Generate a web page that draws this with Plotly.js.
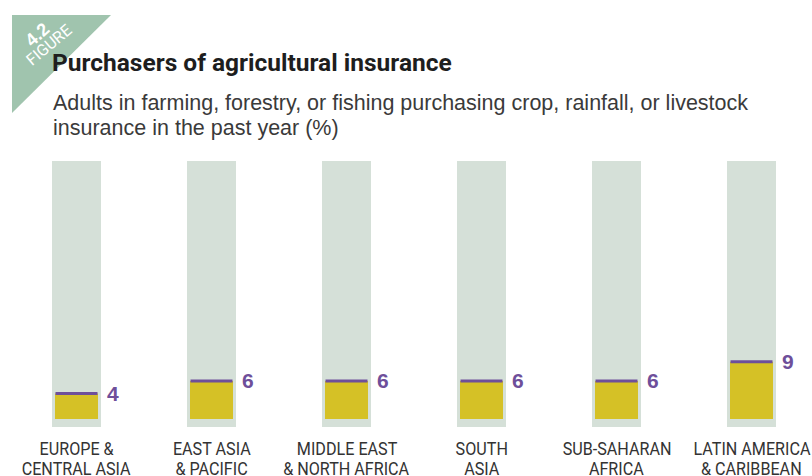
<!DOCTYPE html>
<html>
<head>
<meta charset="utf-8">
<script src="https://cdn.plot.ly/plotly-3.0.1.min.js"></script>
<style>html,body{margin:0;padding:0;background:#fff;}#chart{width:812px;height:476px;}</style>
</head>
<body>
<div id="chart"></div>
<script>
// ---- data ----
const regions = ["EUROPE &\nCENTRAL ASIA", "EAST ASIA\n& PACIFIC", "MIDDLE EAST\n& NORTH AFRICA", "SOUTH\nASIA", "SUB-SAHARAN\nAFRICA", "LATIN AMERICA\n& CARIBBEAN"];
const insurancePct = [4, 6, 6, 6, 6, 9];
const valueLabels = ["4", "6", "6", "6", "6", "9"];
const titleText = "Purchasers of agricultural insurance";
const subtitleLines = ["Adults in farming, forestry, or fishing purchasing crop, rainfall, or livestock", "insurance in the past year (%)"];
const figureNumber = "4.2";
const figureWord = "FIGURE";

// ---- styling ----
const W = 812, H = 476;
const plotL = 9, plotR = 812, plotT = 150, plotB = 430;
const pxPerUnit = 6.35, baselinePx = 419;
const catSpacing = 135;
const purple = "#6e4f9a", yellow = "#d5c126", bgBar = "#d5e0d8", sage = "#a0c4ae", txt = "#333333";
const cond = "Roboto, 'Liberation Sans', sans-serif";
const sans = "'Liberation Sans', Arial, sans-serif";

const xs = regions.map((_, i) => i);
const bgBottom = -(427 - baselinePx) / pxPerUnit;
const bgTop = (baselinePx - 161) / pxPerUnit;

const traces = [
  { type: "bar", x: xs, y: xs.map(() => bgTop - bgBottom), base: xs.map(() => bgBottom),
    width: 49 / catSpacing, marker: { color: bgBar }, hoverinfo: "skip", showlegend: false },
  { type: "bar", x: xs, y: insurancePct, width: 43 / catSpacing,
    marker: { color: yellow }, hoverinfo: "skip", showlegend: false },
  { type: "scatter", mode: "markers", x: xs, y: insurancePct,
    marker: { symbol: "line-ew-open", size: 30, color: purple, line: { color: purple, width: 3 } },
    hoverinfo: "skip", showlegend: false }
];

const px2paperX = p => (p - plotL) / (plotR - plotL);
const px2paperY = p => (plotB - p) / (plotB - plotT);

const annotations = [];
insurancePct.forEach((v, i) => {
  annotations.push({ x: i, y: v, xref: "x", yref: "y", text: "<b>" + valueLabels[i] + "</b>",
    showarrow: false, xanchor: "left", yanchor: "middle", xshift: 28,
    font: { family: sans, size: 21, color: purple } });
});
const catStart = annotations.length;
regions.forEach((r, i) => {
  r.split("\n").forEach((line, j) => {
    annotations.push({ x: i, y: 0, xref: "x", yref: "paper", text: line, showarrow: false,
      xanchor: "center", yanchor: "top", yshift: -5 - j * 20,
      font: { family: cond, size: 19, color: txt } });
  });
});
const catEnd = annotations.length;
subtitleLines.forEach((line, j) => {
  annotations.push({ x: px2paperX(52), y: px2paperY(89 + j * 25), xref: "paper", yref: "paper",
    text: line, showarrow: false, xanchor: "left", yanchor: "top", xshift: -1,
    font: { family: sans, size: 21.5, color: "#3a3a3a" } });
});
annotations.push({ x: px2paperX(37), y: px2paperY(35), xref: "paper", yref: "paper", text: "<b>" + figureNumber + "</b>",
  showarrow: false, xanchor: "center", yanchor: "middle", textangle: -42,
  font: { family: sans, size: 18, color: "#ffffff" } });
annotations.push({ x: px2paperX(48), y: px2paperY(45), xref: "paper", yref: "paper", text: figureWord,
  showarrow: false, xanchor: "center", yanchor: "middle", textangle: -40,
  font: { family: cond, size: 16, color: "#ffffff" } });

const layout = {
  width: W, height: H,
  margin: { l: plotL, r: W - plotR, t: plotT, b: H - plotB, pad: 0 },
  paper_bgcolor: "#ffffff", plot_bgcolor: "#ffffff",
  barmode: "overlay",
  title: { text: "<b>" + titleText + "</b>", xref: "container", yref: "container",
    x: 52 / W, xanchor: "left", y: 1 - 54 / H, yanchor: "top",
    font: { family: cond, size: 24.5, color: "#1e1e1e" } },
  xaxis: { range: [-0.5, -0.5 + (plotR - plotL) / catSpacing], showgrid: false, zeroline: false,
    showticklabels: false, ticks: "", showline: false, fixedrange: true },
  yaxis: { range: [-(plotB - baselinePx) / pxPerUnit, (baselinePx - plotT) / pxPerUnit],
    showgrid: false, zeroline: false, showticklabels: false, ticks: "", showline: false, fixedrange: true },
  shapes: [{ type: "path", xref: "paper", yref: "paper", layer: "below",
    path: `M ${px2paperX(12)} ${px2paperY(15)} L ${px2paperX(111)} ${px2paperY(15)} L ${px2paperX(12)} ${px2paperY(113)} Z`,
    fillcolor: sage, line: { width: 0 } }],
  annotations: annotations,
  showlegend: false
};

// horizontally condense a text element (emulates a condensed typeface)
function squeeze(el, k, anchor) {
  if (!el) return;
  const b = el.getBBox();
  const cx = anchor === "left" ? b.x : b.x + b.width / 2;
  el.setAttribute("transform", `translate(${cx * (1 - k)},0) scale(${k},1)`);
}

Plotly.newPlot("chart", traces, layout, { displayModeBar: false, staticPlot: true }).then(gd => {
  gd.querySelectorAll("g.annotation").forEach(g => {
    const idx = +g.getAttribute("data-index");
    if (idx >= catStart && idx < catEnd) squeeze(g.querySelector("text.annotation-text"), 0.85, "center");
  });
});
</script>
</body>
</html>
